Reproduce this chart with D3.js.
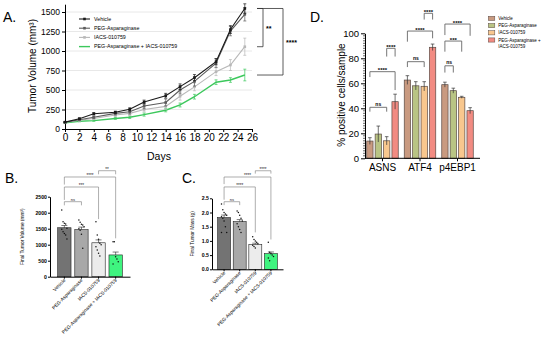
<!DOCTYPE html>
<html>
<head>
<meta charset="utf-8">
<script src="https://cdn.jsdelivr.net/npm/d3@7"></script>
<style>
  body { margin: 0; background: #fff; }
  svg { font-family: "Liberation Sans", Arial, sans-serif; }
</style>
</head>
<body>
<svg id="fig" width="550" height="339"></svg>
<script>
/*** DATA ***/
var groups = ['Vehicle', 'PEG-Asparaginase', 'IACS-010759', 'PEG-Asparaginase + IACS-010759'];

//panel A - tumor growth curves
var days = [0, 2, 4, 7, 9, 11, 14, 16, 18, 21, 23, 25];
var volVehicle = [88, 132, 195, 214, 252, 345, 427, 543, 658, 863, 1275, 1545];
var volPeg     = [86, 118, 150, 200, 222, 295, 340, 500, 610, 845, 1255, 1470];
var volIacs    = [84, 112, 135, 180, 200, 250, 290, 420, 540, 735, 820, 1055];
var volCombo   = [80, 100, 108, 135, 150, 185, 240, 308, 414, 600, 628, 692];
var semVehicle = [5, 10, 15, 15, 20, 25, 30, 35, 40, 40, 50, 60];
var semPeg     = [5, 10, 15, 20, 30, 35, 45, 50, 60, 55, 60, 85];
var semIacs    = [5, 10, 15, 20, 25, 30, 40, 50, 50, 50, 70, 110];
var semCombo   = [5, 8, 10, 12, 15, 20, 20, 25, 30, 30, 30, 75];

//panel B - final tumor volume
var finalVolMean = [1530, 1470, 1060, 680];
var finalVolSem  = [70, 80, 90, 90];
var finalVolPts = [
  [2084, 1719, 1668, 1650, 1512, 1480, 1406, 1350, 1303, 1178],
  [1772, 1700, 1640, 1615, 1560, 1500, 1450, 1325, 887],
  [1720, 1303, 1168, 1043, 1000, 938, 834, 730, 646],
  [1094, 1094, 625, 553, 469, 397]
];

//panel C - final tumor mass
var finalMassMean = [1.82, 1.68, 0.88, 0.55];
var finalMassSem  = [0.09, 0.07, 0.04, 0.06];
var finalMassPts = [
  [2.3, 2.1, 2.0, 1.95, 1.9, 1.85, 1.8, 1.7, 1.5, 1.3, 1.3],
  [2.05, 2.0, 1.9, 1.8, 1.7, 1.6, 1.5, 1.4, 1.3],
  [1.15, 1.05, 1.0, 0.95, 0.9, 0.85, 0.8, 0.75],
  [0.95, 0.6, 0.55, 0.5, 0.45, 0.4, 0.3]
];

//panel D - IHC markers
var markers = ['ASNS', 'ATF4', 'p4EBP1'];
var ihcVehicle = [13.8, 62.6, 58.9];
var ihcPeg     = [19.4, 58.0, 54.1];
var ihcIacs    = [14.0, 57.6, 48.8];
var ihcCombo   = [45.3, 88.8, 38.1];
var ihcErrVehicle = [2.7, 3.5, 2.0];
var ihcErrPeg     = [6.4, 3.3, 2.0];
var ihcErrIacs    = [3.3, 3.7, 0.8];
var ihcErrCombo   = [6.0, 2.6, 2.4];

/*** STYLES ***/
var lineColors = ['#1a1a1a', '#5c5c5c', '#b8b8b8', '#3cc85c'];
var barGrays = ['#737373', '#a8a8a8', '#ececec', '#3ff47f'];
var ihcColors = ['#c99a80', '#b9c484', '#f8c78e', '#f28b82'];

var svg = d3.select('#fig');

function styleAxis(g, size) {
  g.select('.domain').attr('stroke', '#000').attr('stroke-width', 1);
  g.selectAll('.tick line').attr('stroke', '#000');
  g.selectAll('.tick text').attr('fill', '#000').style('font-size', size + 'px');
}

function panelLabel(x, y, txt) {
  svg.append('text').attr('x', x).attr('y', y).text(txt)
    .style('font-size', '14px').attr('fill', '#000');
}

/****************************/
/*** PANEL A: GROWTH      ***/
/****************************/
var xA = d3.scaleLinear().domain([0, 26]).range([65, 252]);
var yA = d3.scaleLinear().domain([0, 1600]).range([129, 4.2]);
var gA = svg.append('g');

//gridlines
gA.selectAll('.grid').data(d3.range(250, 1501, 250)).enter().append('line')
  .attr('x1', xA(0)).attr('x2', xA(26))
  .attr('y1', d => yA(d)).attr('y2', d => yA(d))
  .attr('stroke', '#e2e2e2').attr('stroke-width', 0.8);

var axA = gA.append('g').attr('transform', 'translate(0,' + yA(0) + ')')
  .call(d3.axisBottom(xA).tickValues(d3.range(0, 27, 2)).tickSize(3).tickSizeOuter(0).tickPadding(2));
styleAxis(axA, 10);
var ayA = gA.append('g').attr('transform', 'translate(' + xA(0) + ',0)')
  .call(d3.axisLeft(yA).tickValues(d3.range(0, 1501, 250)).tickFormat(d3.format('d'))
    .tickSize(3).tickSizeOuter(0).tickPadding(2));
styleAxis(ayA, 8.5);

gA.append('text').attr('transform', 'translate(36,66) rotate(-90)')
  .attr('text-anchor', 'middle').style('font-size', '10px').text('Tumor Volume (mm³)');
gA.append('text').attr('x', 159).attr('y', 160)
  .attr('text-anchor', 'middle').style('font-size', '10.5px').text('Days');

var seriesA = [
  {name: groups[0], vals: volVehicle, sem: semVehicle},
  {name: groups[1], vals: volPeg, sem: semPeg},
  {name: groups[2], vals: volIacs, sem: semIacs},
  {name: groups[3], vals: volCombo, sem: semCombo}
];

var lineA = d3.line().x((d, i) => xA(days[i])).y(d => yA(d));

//draw back to front so vehicle sits on top
seriesA.slice().reverse().forEach(function(s) {
  var idx = seriesA.indexOf(s);
  var col = lineColors[idx];
  var g = gA.append('g');
  g.selectAll('.err').data(s.vals).enter().append('path')
    .attr('d', function(d, i) {
      var x = xA(days[i]), y1 = yA(d - s.sem[i]), y2 = yA(d + s.sem[i]);
      return 'M' + x + ',' + y1 + 'V' + y2 + 'M' + (x - 1.5) + ',' + y1 + 'H' + (x + 1.5) + 'M' + (x - 1.5) + ',' + y2 + 'H' + (x + 1.5);
    })
    .attr('stroke', col).attr('stroke-width', 0.7).attr('fill', 'none');
  g.append('path').datum(s.vals).attr('d', lineA)
    .attr('fill', 'none').attr('stroke', col).attr('stroke-width', idx == 3 ? 1.4 : 1.1);
  if (idx < 3) {
    g.selectAll('.pt').data(s.vals).enter().append('rect')
      .attr('x', (d, i) => xA(days[i]) - 1.3).attr('y', d => yA(d) - 1.3)
      .attr('width', 2.6).attr('height', 2.6).attr('fill', col);
  }
});

//legend
var legA = gA.append('g');
groups.forEach(function(name, i) {
  var y = 19 + i * 9.2;
  legA.append('line').attr('x1', 79).attr('x2', 90).attr('y1', y).attr('y2', y)
    .attr('stroke', lineColors[i]).attr('stroke-width', i == 3 ? 1.4 : 1.1);
  if (i < 3) legA.append('rect').attr('x', 83.2).attr('y', y - 1.3).attr('width', 2.6).attr('height', 2.6).attr('fill', lineColors[i]);
  legA.append('text').attr('x', 94).attr('y', y + 1.8).style('font-size', '5.3px').text(name);
});

//significance brackets
var sigA = [{to: 2, label: '**', dx: 11}, {to: 3, label: '****', dx: 31}];
sigA.forEach(function(b) {
  var x = xA(26) + b.dx;
  var yTop = yA(volVehicle[volVehicle.length - 1]);
  var yBot = yA(seriesA[b.to].vals[days.length - 1]);
  gA.append('path')
    .attr('d', 'M' + (xA(26) + 5) + ',' + yTop + 'H' + x + 'V' + yBot + 'H' + (xA(26) + 5))
    .attr('fill', 'none').attr('stroke', '#333').attr('stroke-width', 0.8);
  gA.append('text').attr('x', x + 3).attr('y', (yTop + yBot) / 2 + 3.5)
    .style('font-size', '7px').style('font-weight', 'bold').text(b.label);
});

panelLabel(3, 21.7, 'A.');

/****************************/
/*** PANELS B & C: BARS   ***/
/****************************/
function barPanel(opt) {
  var g = svg.append('g');
  var x = d3.scaleBand().domain(groups).range(opt.xRange).paddingInner(opt.pi).paddingOuter(opt.po);
  var y = d3.scaleLinear().domain([0, opt.max]).range(opt.yRange);

  g.selectAll('.bar').data(opt.mean).enter().append('rect')
    .attr('x', (d, i) => x(groups[i])).attr('y', d => y(d))
    .attr('width', x.bandwidth()).attr('height', d => y(0) - y(d))
    .attr('fill', (d, i) => barGrays[i]).attr('stroke', '#222').attr('stroke-width', 0.6);

  //individual points
  opt.pts.forEach(function(arr, i) {
    var cx = x(groups[i]) + x.bandwidth() / 2;
    g.selectAll('.pt' + i).data(arr).enter().append('circle')
      .attr('cx', (d, j) => cx + ((j % 5) - 2) * 1.3)
      .attr('cy', d => y(d)).attr('r', 0.75).attr('fill', '#111');
  });

  //sem
  g.selectAll('.err').data(opt.mean).enter().append('path')
    .attr('d', function(d, i) {
      var cx = x(groups[i]) + x.bandwidth() / 2, y1 = y(d + opt.sem[i]);
      return 'M' + cx + ',' + y(d) + 'V' + y1 + 'M' + (cx - 3) + ',' + y1 + 'H' + (cx + 3);
    })
    .attr('stroke', '#222').attr('stroke-width', 0.6).attr('fill', 'none');

  var ax = g.append('g').attr('transform', 'translate(0,' + y(0) + ')')
    .call(d3.axisBottom(x).tickSize(2).tickSizeOuter(0).tickFormat(''));
  styleAxis(ax, 5);
  var ay = g.append('g').attr('transform', 'translate(' + opt.xRange[0] + ',0)')
    .call(d3.axisLeft(y).tickValues(opt.ticks).tickFormat(opt.fmt).tickSize(2).tickSizeOuter(0).tickPadding(1));
  styleAxis(ay, 5.2);
  ay.selectAll('.tick text').style('font-weight', 'bold');

  //rotated labels
  groups.forEach(function(name, i) {
    var cx = x(name) + x.bandwidth() / 2;
    g.append('text').attr('transform', 'translate(' + (cx + 1.5) + ',' + (y(0) + 4) + ') rotate(-45)')
      .attr('text-anchor', 'end').style('font-size', '4.8px').text(name);
  });

  g.append('text').attr('transform', 'translate(' + opt.titleX + ',' + ((y(0) + y(opt.max)) / 2) + ') rotate(-90)')
    .attr('text-anchor', 'middle').style('font-size', '4.8px').text(opt.title);

  //brackets
  opt.brackets.forEach(function(b) {
    var x1 = x(groups[b.a]) + x.bandwidth() / 2, x2 = x(groups[b.b]) + x.bandwidth() / 2;
    g.append('path')
      .attr('d', 'M' + x1 + ',' + y(b.l1) + 'V' + y(b.lv) + 'H' + x2 + 'V' + y(b.l2))
      .attr('fill', 'none').attr('stroke', '#777').attr('stroke-width', 0.6);
    g.append('text').attr('x', (x1 + x2) / 2).attr('y', y(b.lv) - (b.label == 'ns' ? 1 : -0.3))
      .attr('text-anchor', 'middle').style('font-size', b.label == 'ns' ? '4px' : '4.5px')
      .attr('fill', '#222').text(b.label);
  });
}

barPanel({
  xRange: [50, 130], pi: 0.22, po: 0.45, yRange: [276.7, 196.7], max: 2500,
  ticks: d3.range(0, 2501, 500), fmt: d3.format('d'),
  mean: finalVolMean, sem: finalVolSem, pts: finalVolPts,
  titleX: 24, title: 'Final Tumor Volume (mm³)',
  brackets: [
    {a: 0, b: 1, lv: 2344, l1: 2230, l2: 2230, label: 'ns'},
    {a: 0, b: 2, lv: 2803, l1: 2400, l2: 1800, label: '***'},
    {a: 0, b: 3, lv: 3116, l1: 2880, l2: 1200, label: '****'},
    {a: 2, b: 3, lv: 3312, l1: 3200, l2: 3200, label: '**'}
  ]
});

barPanel({
  xRange: [212, 283], pi: 0.17, po: 0.36, yRange: [269.3, 198.3], max: 2.5,
  ticks: d3.range(0, 2.51, 0.5), fmt: d3.format('.1f'),
  mean: finalMassMean, sem: finalMassSem, pts: finalMassPts,
  titleX: 194, title: 'Final Tumor Mass (g)',
  brackets: [
    {a: 0, b: 1, lv: 2.38, l1: 2.26, l2: 2.26, label: 'ns'},
    {a: 0, b: 2, lv: 2.90, l1: 2.45, l2: 1.3, label: '****'},
    {a: 0, b: 3, lv: 3.25, l1: 3.0, l2: 1.05, label: '****'},
    {a: 2, b: 3, lv: 3.47, l1: 3.37, l2: 3.37, label: '****'}
  ]
});

panelLabel(5, 183, 'B.');
panelLabel(182, 183, 'C.');

/****************************/
/*** PANEL D: IHC         ***/
/****************************/
var gD = svg.append('g');
var x0D = d3.scaleBand().domain(markers).range([362.5, 477.5]).paddingInner(0.16).paddingOuter(0.113);
var x1D = d3.scaleBand().domain(groups).range([0, x0D.bandwidth()]).paddingInner(0.25);
var yD = d3.scaleLinear().domain([0, 100]).range([158.3, 33.3]);

var ihcSeries = [
  {vals: ihcVehicle, err: ihcErrVehicle},
  {vals: ihcPeg, err: ihcErrPeg},
  {vals: ihcIacs, err: ihcErrIacs},
  {vals: ihcCombo, err: ihcErrCombo}
];

markers.forEach(function(m, mi) {
  ihcSeries.forEach(function(s, si) {
    var bx = x0D(m) + x1D(groups[si]);
    var cx = bx + x1D.bandwidth() / 2;
    var v = s.vals[mi], e = s.err[mi];
    gD.append('rect').attr('x', bx).attr('y', yD(v))
      .attr('width', x1D.bandwidth()).attr('height', yD(0) - yD(v))
      .attr('fill', ihcColors[si]).attr('stroke', '#5a4a44').attr('stroke-width', 0.7);
    gD.append('path')
      .attr('d', 'M' + cx + ',' + yD(v - e) + 'V' + yD(v + e) + 'M' + (cx - 1.8) + ',' + yD(v + e) + 'H' + (cx + 1.8))
      .attr('stroke', '#333').attr('stroke-width', 0.7).attr('fill', 'none');
  });
});

//axes
var ayD = gD.append('g').attr('transform', 'translate(365,0)')
  .call(d3.axisLeft(yD).tickValues(d3.range(0, 101, 20)).tickSize(4).tickSizeOuter(0).tickPadding(2));
styleAxis(ayD, 9.5);
gD.append('g').attr('transform', 'translate(365,0)')
  .selectAll('line').data(d3.range(0, 101, 2).filter(d => d % 20 != 0)).enter().append('line')
  .attr('x1', -2).attr('x2', 0).attr('y1', d => yD(d)).attr('y2', d => yD(d))
  .attr('stroke', '#000').attr('stroke-width', 0.6);
gD.append('line').attr('x1', 365).attr('x2', 480).attr('y1', yD(0)).attr('y2', yD(0))
  .attr('stroke', '#000').attr('stroke-width', 1);
var axD = gD.append('g').attr('transform', 'translate(0,' + yD(0) + ')')
  .call(d3.axisBottom(x0D).tickSize(3).tickSizeOuter(0).tickPadding(3));
axD.select('.domain').remove();
styleAxis(axD, 10);

gD.append('text').attr('transform', 'translate(345,95) rotate(-90)')
  .attr('text-anchor', 'middle').style('font-size', '10px').text('% positive cells/sample');

//brackets
var sigD = [
  {m: 0, a: 0, b: 2, lv: 40.8, l1: 37.3, l2: 37.3, label: 'ns'},
  {m: 0, a: 0, b: 3, lv: 69.3, l1: 65.0, l2: 54.6, label: '****'},
  {m: 0, a: 2, b: 3, lv: 88.0, l1: 81.4, l2: 81.4, label: '****'},
  {m: 1, a: 0, b: 2, lv: 77.3, l1: 73.0, l2: 73.0, label: 'ns'},
  {m: 1, a: 0, b: 3, lv: 101.8, l1: 93.3, l2: 96.0, label: '****'},
  {m: 1, a: 2, b: 3, lv: 116.0, l1: 111.0, l2: 111.0, label: '****'},
  {m: 2, a: 0, b: 1, lv: 74.0, l1: 68.6, l2: 68.6, label: 'ns'},
  {m: 2, a: 0, b: 2, lv: 93.8, l1: 85.3, l2: 85.3, label: '***'},
  {m: 2, a: 0, b: 3, lv: 107.4, l1: 98.6, l2: 98.0, label: '****'}
];
sigD.forEach(function(b) {
  var m = markers[b.m];
  var xa = x0D(m) + x1D(groups[b.a]) + x1D.bandwidth() / 2;
  var xb = x0D(m) + x1D(groups[b.b]) + x1D.bandwidth() / 2;
  gD.append('path')
    .attr('d', 'M' + xa + ',' + yD(b.l1) + 'V' + yD(b.lv) + 'H' + xb + 'V' + yD(b.l2))
    .attr('fill', 'none').attr('stroke', '#666').attr('stroke-width', 0.9);
  gD.append('text').attr('x', (xa + xb) / 2).attr('y', yD(b.lv) - (b.label == 'ns' ? 1.5 : -0.5))
    .attr('text-anchor', 'middle').style('font-size', b.label == 'ns' ? '5px' : '6px')
    .style('font-weight', 'bold').text(b.label);
});

//legend
var legD = gD.append('g');
var legRows = [['Vehicle'], ['PEG-Asparaginase'], ['IACS-010759'], ['PEG-Asparaginase +', 'IACS-010759']];
legRows.forEach(function(lines, i) {
  var y = 18.3 + i * 7.2;
  legD.append('rect').attr('x', 488.3).attr('y', y - 2).attr('width', 6.5).attr('height', 4.2)
    .attr('fill', ihcColors[i]).attr('stroke', '#5a4a44').attr('stroke-width', 0.5);
  lines.forEach(function(t, j) {
    legD.append('text').attr('x', 498.3).attr('y', y + 1.6 + j * 6.7)
      .style('font-size', '4.5px').text(t);
  });
});

panelLabel(310, 21.7, 'D.');
</script>
</body>
</html>
